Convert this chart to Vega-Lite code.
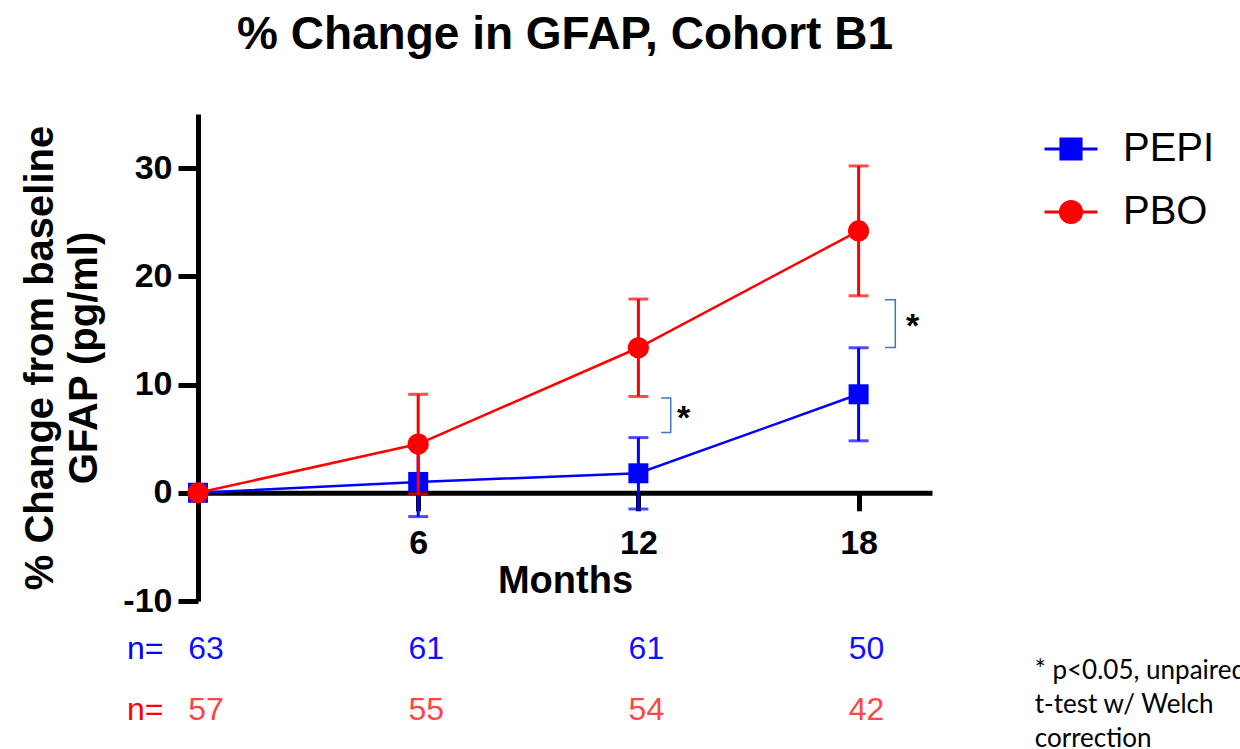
{
  "$schema": "https://vega.github.io/schema/vega-lite/v6.json",
  "width": 734,
  "height": 487,
  "autosize": {"type": "none"},
  "padding": {"left": 198, "top": 114, "right": 308, "bottom": 148},
  "background": "white",
  "config": {"font": "Liberation Sans", "view": {"stroke": null}},
  "title": {
    "text": "% Change in GFAP, Cohort B1",
    "font": "Liberation Sans",
    "fontSize": 46,
    "fontWeight": "bold",
    "color": "black",
    "anchor": "middle",
    "offset": 55
  },
  "datasets": {
    "series": [
      {"month": 0, "group": "PEPI", "mean": 0, "lo": null, "hi": null},
      {"month": 6, "group": "PEPI", "mean": 1.0, "lo": -2.2, "hi": 4.2},
      {"month": 12, "group": "PEPI", "mean": 1.8, "lo": -1.5, "hi": 5.1},
      {"month": 18, "group": "PEPI", "mean": 9.1, "lo": 4.8, "hi": 13.4},
      {"month": 0, "group": "PBO", "mean": 0, "lo": null, "hi": null},
      {"month": 6, "group": "PBO", "mean": 4.5, "lo": -0.1, "hi": 9.1},
      {"month": 12, "group": "PBO", "mean": 13.4, "lo": 8.9, "hi": 17.9},
      {"month": 18, "group": "PBO", "mean": 24.2, "lo": 18.2, "hi": 30.2}
    ],
    "counts": [
      {"month": 0, "group": "PEPI", "n": 63},
      {"month": 6, "group": "PEPI", "n": 61},
      {"month": 12, "group": "PEPI", "n": 61},
      {"month": 18, "group": "PEPI", "n": 50},
      {"month": 0, "group": "PBO", "n": 57},
      {"month": 6, "group": "PBO", "n": 55},
      {"month": 12, "group": "PBO", "n": 54},
      {"month": 18, "group": "PBO", "n": 42}
    ],
    "brackets": [
      {"pair": "m12", "step": 1, "month": 12.62, "value": 8.75},
      {"pair": "m12", "step": 2, "month": 12.88, "value": 8.75},
      {"pair": "m12", "step": 3, "month": 12.88, "value": 5.57},
      {"pair": "m12", "step": 4, "month": 12.62, "value": 5.57},
      {"pair": "m18", "step": 1, "month": 18.72, "value": 17.83},
      {"pair": "m18", "step": 2, "month": 19.0, "value": 17.83},
      {"pair": "m18", "step": 3, "month": 19.0, "value": 13.42},
      {"pair": "m18", "step": 4, "month": 18.72, "value": 13.42}
    ],
    "stars": [
      {"month": 13.23, "value": 5.9, "mark": "*"},
      {"month": 19.47, "value": 14.4, "mark": "*"}
    ]
  },
  "layer": [
    {
      "data": {"name": "series"},
      "transform": [{"filter": "datum.group === 'PEPI'"}],
      "encoding": {
        "x": {
          "field": "month",
          "type": "quantitative",
          "scale": {"domain": [0, 20], "nice": false, "zero": false},
          "axis": {
            "values": [6, 12, 18],
            "offset": -108.2,
            "grid": false,
            "domainColor": "black",
            "domainWidth": 5,
            "tickColor": "black",
            "tickWidth": 5,
            "tickSize": 18,
            "labelFont": "Liberation Sans",
            "labelFontSize": 34,
            "labelFontWeight": "bold",
            "labelColor": "black",
            "labelPadding": 16,
            "labelFlush": false,
            "title": "Months",
            "titleFont": "Liberation Sans",
            "titleFontSize": 38,
            "titleFontWeight": "bold",
            "titleColor": "black",
            "titlePadding": 2
          }
        }
      },
      "layer": [
        {
          "transform": [{"filter": "datum.lo != null"}],
          "mark": {"type": "rule", "strokeWidth": 3, "color": "#0000FF"},
          "encoding": {
            "y": {
              "field": "lo",
              "type": "quantitative",
              "scale": {"domain": [-10, 35], "nice": false, "zero": false},
              "axis": {
                "values": [-10, 0, 10, 20, 30],
                "labelExpr": "'' + datum.value",
                "grid": false,
                "domainColor": "black",
                "domainWidth": 5,
                "tickColor": "black",
                "tickWidth": 5,
                "tickSize": 20,
                "labelFont": "Liberation Sans",
                "labelFontSize": 34,
                "labelFontWeight": "bold",
                "labelColor": "black",
                "labelPadding": 6,
                "title": ["% Change from baseline", "GFAP (pg/ml)"],
                "titleFont": "Liberation Sans",
                "titleFontSize": 40,
                "titleFontWeight": "bold",
                "titleColor": "black",
                "titleLineHeight": 44,
                "titlePadding": 18
              }
            },
            "y2": {"field": "hi"}
          }
        },
        {
          "transform": [{"filter": "datum.lo != null"}],
          "mark": {"type": "tick", "orient": "horizontal", "size": 20, "thickness": 3, "color": "#0000FF"},
          "encoding": {"y": {"field": "lo", "type": "quantitative"}}
        },
        {
          "transform": [{"filter": "datum.hi != null"}],
          "mark": {"type": "tick", "orient": "horizontal", "size": 20, "thickness": 3, "color": "#0000FF"},
          "encoding": {"y": {"field": "hi", "type": "quantitative"}}
        },
        {
          "mark": {"type": "line", "strokeWidth": 2.5, "color": "#0000FF"},
          "encoding": {"y": {"field": "mean", "type": "quantitative"}}
        },
        {
          "mark": {"type": "point", "filled": true, "opacity": 1, "shape": "square", "size": 400, "color": "#0000FF"},
          "encoding": {"y": {"field": "mean", "type": "quantitative"}}
        }
      ]
    },
    {
      "data": {"name": "series"},
      "transform": [{"filter": "datum.group === 'PBO'"}],
      "encoding": {
        "x": {"field": "month", "type": "quantitative"}
      },
      "layer": [
        {
          "transform": [{"filter": "datum.lo != null"}],
          "mark": {"type": "rule", "strokeWidth": 3, "color": "#FF0000"},
          "encoding": {
            "y": {"field": "lo", "type": "quantitative"},
            "y2": {"field": "hi"}
          }
        },
        {
          "transform": [{"filter": "datum.lo != null"}],
          "mark": {"type": "tick", "orient": "horizontal", "size": 20, "thickness": 3, "color": "#FF0000"},
          "encoding": {"y": {"field": "lo", "type": "quantitative"}}
        },
        {
          "transform": [{"filter": "datum.hi != null"}],
          "mark": {"type": "tick", "orient": "horizontal", "size": 20, "thickness": 3, "color": "#FF0000"},
          "encoding": {"y": {"field": "hi", "type": "quantitative"}}
        },
        {
          "mark": {"type": "line", "strokeWidth": 2.5, "color": "#FF0000"},
          "encoding": {"y": {"field": "mean", "type": "quantitative"}}
        },
        {
          "mark": {"type": "point", "filled": true, "opacity": 1, "shape": "circle", "size": 450, "color": "#FF0000"},
          "encoding": {"y": {"field": "mean", "type": "quantitative"}}
        }
      ]
    },
    {
      "data": {"name": "series"},
      "mark": {"type": "point", "filled": true, "opacity": 0},
      "encoding": {
        "x": {"field": "month", "type": "quantitative"},
        "y": {"field": "mean", "type": "quantitative"},
        "color": {
          "field": "group",
          "type": "nominal",
          "scale": {"domain": ["PEPI", "PBO"], "range": ["#0000FF", "#FF0000"]},
          "legend": {
            "orient": "none",
            "legendX": 845,
            "legendY": 7,
            "title": null,
            "padding": 0,
            "symbolSize": 2809,
            "symbolStrokeWidth": 3,
            "symbolOpacity": 1,
            "labelFont": "Liberation Sans",
            "labelFontSize": 40,
            "labelColor": "black",
            "labelOffset": 24,
            "rowPadding": 15,
            "encode": {
              "symbols": {
                "update": {
                  "fill": {"scale": "color", "field": "value"},
                  "stroke": {"scale": "color", "field": "value"},
                  "strokeWidth": {"value": 3},
                  "opacity": {"value": 1}
                }
              }
            }
          }
        },
        "shape": {
          "field": "group",
          "type": "nominal",
          "scale": {
            "domain": ["PEPI", "PBO"],
            "range": [
              "M-1,0H1M-0.38,-0.38H0.38V0.38H-0.38Z",
              "M-1,0H1M-0.4,0A0.4,0.4,0,1,1,0.4,0A0.4,0.4,0,1,1,-0.4,0Z"
            ]
          },
          "legend": {
            "orient": "none",
            "legendX": 845,
            "legendY": 7,
            "title": null,
            "padding": 0,
            "symbolSize": 2809,
            "symbolStrokeWidth": 3,
            "symbolOpacity": 1,
            "labelFont": "Liberation Sans",
            "labelFontSize": 40,
            "labelColor": "black",
            "labelOffset": 24,
            "rowPadding": 15
          }
        }
      }
    },
    {
      "data": {"name": "brackets"},
      "mark": {"type": "line", "color": "#4472C4", "strokeWidth": 1.5},
      "encoding": {
        "x": {"field": "month", "type": "quantitative"},
        "y": {"field": "value", "type": "quantitative"},
        "detail": {"field": "pair", "type": "nominal"},
        "order": {"field": "step", "type": "quantitative"}
      }
    },
    {
      "data": {"name": "stars"},
      "mark": {"type": "text", "font": "Liberation Sans", "fontSize": 34, "fontWeight": "bold", "color": "black", "align": "center", "baseline": "alphabetic"},
      "encoding": {
        "x": {"field": "month", "type": "quantitative"},
        "y": {"field": "value", "type": "quantitative"},
        "text": {"field": "mark", "type": "nominal"}
      }
    },
    {
      "data": {"values": [{"label": "n=", "group": "PEPI"}]},
      "mark": {"type": "text", "font": "Liberation Sans", "fontSize": 32, "color": "#0000FF", "align": "center", "baseline": "middle"},
      "encoding": {
        "x": {"datum": -1.44, "type": "quantitative"},
        "y": {"datum": -14.4, "type": "quantitative"},
        "text": {"field": "label", "type": "nominal"}
      }
    },
    {
      "data": {"values": [{"label": "n=", "group": "PBO"}]},
      "mark": {"type": "text", "font": "Liberation Sans", "fontSize": 32, "color": "#FF0000", "align": "center", "baseline": "middle"},
      "encoding": {
        "x": {"datum": -1.44, "type": "quantitative"},
        "y": {"datum": -20.05, "type": "quantitative"},
        "text": {"field": "label", "type": "nominal"}
      }
    },
    {
      "data": {"name": "counts"},
      "transform": [{"filter": "datum.group === 'PEPI'"}],
      "mark": {"type": "text", "font": "Liberation Sans", "fontSize": 32, "color": "#1010FF", "align": "center", "baseline": "middle", "dx": 8},
      "encoding": {
        "x": {"field": "month", "type": "quantitative"},
        "y": {"datum": -14.4, "type": "quantitative"},
        "text": {"field": "n", "type": "quantitative"}
      }
    },
    {
      "data": {"name": "counts"},
      "transform": [{"filter": "datum.group === 'PBO'"}],
      "mark": {"type": "text", "font": "Liberation Sans", "fontSize": 32, "color": "#FF4545", "align": "center", "baseline": "middle", "dx": 8},
      "encoding": {
        "x": {"field": "month", "type": "quantitative"},
        "y": {"datum": -20.05, "type": "quantitative"},
        "text": {"field": "n", "type": "quantitative"}
      }
    },
    {
      "data": {"values": [{"note": "* p<0.05, unpaired\nt-test w/ Welch\ncorrection"}]},
      "mark": {"type": "text", "font": "Lato", "fontSize": 26, "color": "black", "align": "left", "baseline": "alphabetic", "lineBreak": "\n", "lineHeight": 34},
      "encoding": {
        "x": {"datum": 22.8, "type": "quantitative"},
        "y": {"datum": -17.2, "type": "quantitative"},
        "text": {"field": "note", "type": "nominal"}
      }
    }
  ]
}
